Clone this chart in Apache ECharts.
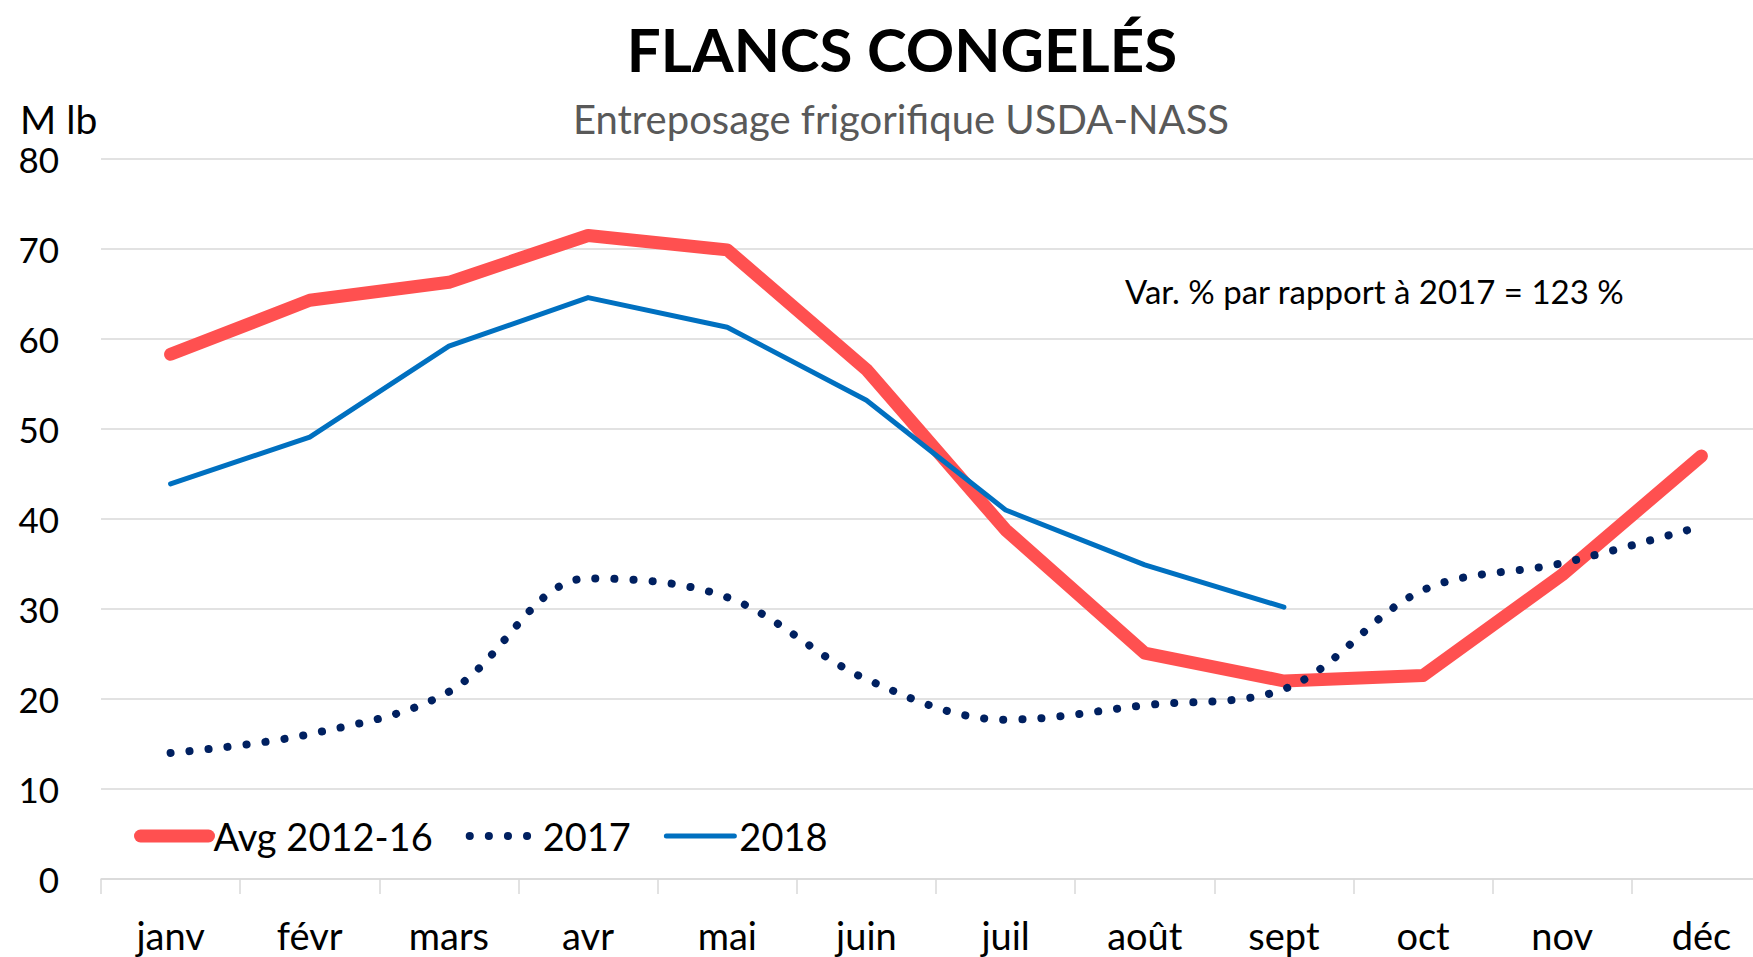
<!DOCTYPE html>
<html>
<head>
<meta charset="utf-8">
<title>Flancs congelés</title>
<script src="https://cdn.jsdelivr.net/npm/echarts@6/dist/echarts.min.js"></script>
<style>
  html, body { margin: 0; padding: 0; background: #fff; }
  #main { width: 1753px; height: 957px; }
</style>
</head>
<body>
<div id="main"></div>
<script>
// données (M lb)
var mois = ['janv', 'févr', 'mars', 'avr', 'mai', 'juin', 'juil', 'août', 'sept', 'oct', 'nov', 'déc'];
var avg2012_16 = [58.3, 64.3, 66.3, 71.5, 69.9, 56.6, 38.8, 25.1, 22.0, 22.6, 33.8, 47.0];
var an2017 = [14.0, 16.1, 20.8, 33.4, 31.3, 22.2, 17.7, 19.3, 21.1, 32.1, 35.1, 39.2];
var an2018 = [43.9, 49.1, 59.2, 64.6, 61.3, 53.2, 41.0, 34.9, 30.2];
var yTicks = [0, 10, 20, 30, 40, 50, 60, 70, 80];

var police = 'Lato, "Open Sans", sans-serif';
var gris = '#d9d9d9';

var myChart = echarts.init(document.getElementById('main'), null, { renderer: 'svg' });

var option = {
    backgroundColor: '#fff',
    animation: false,
    textStyle: { fontFamily: police },
    graphic: [
        {
            type: 'text', x: 902, y: 49,
            style: { text: 'FLANCS CONGELÉS', font: 'bold 60px ' + police, fill: '#000',
                     textAlign: 'center', textVerticalAlign: 'middle' }
        },
        {
            type: 'text', x: 901, y: 119,
            style: { text: 'Entreposage frigorifique USDA-NASS', font: '40px ' + police, fill: '#595959',
                     textAlign: 'center', textVerticalAlign: 'middle' }
        },
        {
            type: 'text', x: 20, y: 119,
            style: { text: 'M lb', font: '39px ' + police, fill: '#000',
                     textAlign: 'left', textVerticalAlign: 'middle' }
        },
        {
            type: 'text', x: 1125, y: 291,
            style: { text: 'Var. % par rapport à 2017 = 123 %', font: '33px ' + police, fill: '#000',
                     textAlign: 'left', textVerticalAlign: 'middle' }
        }
    ],
    legend: {
        left: 134,
        top: 817,
        padding: 0,
        itemWidth: 68,
        itemHeight: 14,
        itemGap: 33,
        itemStyle: { opacity: 0 },
        textStyle: { fontSize: 38, color: '#000', fontFamily: police },
        data: [
            { name: 'Avg 2012-16', lineStyle: { width: 13, cap: 'round', color: '#ff5050' } },
            { name: '2017', lineStyle: { width: 8, cap: 'round', type: [0.1, 19], color: '#002060' } },
            { name: '2018', lineStyle: { width: 5, cap: 'round', color: '#0070c0' } }
        ]
    },
    grid: {
        left: 101,
        top: 159,
        width: 1670,
        height: 720,
        outerBoundsMode: 'none',
        containLabel: false
    },
    xAxis: {
        type: 'category',
        data: mois,
        boundaryGap: true,
        axisLine: { lineStyle: { color: gris, width: 1.5 } },
        axisTick: { show: true, length: 15, interval: 0, lineStyle: { color: gris, width: 1.5 } },
        axisLabel: { fontSize: 38, color: '#000', margin: 37, interval: 0, fontFamily: police }
    },
    yAxis: {
        type: 'value',
        min: yTicks[0],
        max: yTicks[yTicks.length - 1],
        interval: 10,
        axisLine: { show: false },
        axisTick: { show: false },
        axisLabel: { fontSize: 35, color: '#000', margin: 42, fontFamily: police },
        splitLine: { lineStyle: { color: gris, width: 1.5 } }
    },
    series: [
        {
            name: 'Avg 2012-16',
            type: 'line',
            data: avg2012_16,
            symbol: 'none',
            color: '#ff5050',
            lineStyle: { width: 13, color: '#ff5050', cap: 'round', join: 'round' },
            z: 2
        },
        {
            name: '2017',
            type: 'line',
            data: an2017,
            symbol: 'none',
            smooth: 0.35,
            color: '#002060',
            lineStyle: { width: 8, color: '#002060', type: [0.1, 19], cap: 'round' },
            z: 3
        },
        {
            name: '2018',
            type: 'line',
            data: an2018,
            symbol: 'none',
            color: '#0070c0',
            lineStyle: { width: 5, color: '#0070c0', cap: 'round', join: 'round' },
            z: 4
        }
    ]
};

myChart.setOption(option);
</script>
</body>
</html>
